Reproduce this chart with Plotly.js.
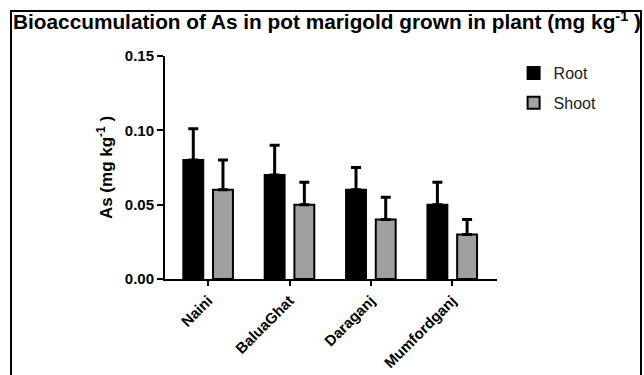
<!DOCTYPE html>
<html>
<head>
<meta charset="utf-8">
<script src="https://cdn.plot.ly/plotly-3.0.1.min.js"></script>
<style>
  html, body { margin: 0; padding: 0; background: #fff; overflow: hidden; }
  #chart { width: 644px; height: 375px; }
  #frame { position: absolute; left: 10px; top: 10px; width: 628px; height: 420px;
           border-left: 2px solid #000; border-top: 2px solid #000; border-right: 2px solid #000;
           pointer-events: none; }
</style>
</head>
<body>
<div id="chart"></div>
<div id="frame"></div>
<script>
const sites = ["Naini", "BaluaGhat", "Daraganj", "Mumfordganj"];
const rootValues = [0.080, 0.070, 0.060, 0.050];
const rootErrors = [0.021, 0.020, 0.015, 0.015];
const shootValues = [0.060, 0.050, 0.040, 0.030];
const shootErrors = [0.020, 0.015, 0.015, 0.010];
const yTicks = [0, 0.05, 0.10, 0.15];
const yTickLabels = ["0.00", "0.05", "0.10", "0.15"];

const FONT = "Liberation Sans, Arial, sans-serif";

const traces = [
  {
    type: "bar", name: "Root", x: sites, y: rootValues,
    marker: { color: "#000000", line: { color: "#000000", width: 2 } },
    error_y: { type: "data", symmetric: false, array: rootErrors, arrayminus: rootValues.map(() => 0),
               color: "#000000", thickness: 3, width: 5 },
    legendgroup: "a"
  },
  {
    type: "bar", name: "Shoot", x: sites, y: shootValues,
    marker: { color: "#a0a0a0", line: { color: "#000000", width: 2 } },
    error_y: { type: "data", symmetric: false, array: shootErrors, arrayminus: shootValues.map(() => 0),
               color: "#000000", thickness: 3, width: 5 },
    legendgroup: "b"
  }
];

const layout = {
  width: 644, height: 375,
  margin: { l: 165, r: 147, t: 56, b: 96, pad: 0 },
  paper_bgcolor: "#ffffff", plot_bgcolor: "#ffffff",
  barmode: "group", bargap: 0.27, bargroupgap: 0.33,
  showlegend: true,
  title: {
    text: "<b>Bioaccumulation of As in pot marigold grown in plant (mg kg<sup>-1</sup> )</b>",
    font: { family: FONT, size: 20.8, color: "#000" },
    xref: "container", yref: "container", x: 13 / 644, xanchor: "left",
    y: 1 - 22 / 375, yanchor: "middle"
  },
  xaxis: {
    type: "category", range: [-0.53, 3.55],
    showline: true, linecolor: "#000", linewidth: 2,
    ticks: "outside", ticklen: 5, tickwidth: 2, tickcolor: "#000",
    tickangle: -45, showgrid: false, zeroline: false,
    tickfont: { family: FONT, size: 15, color: "#000", weight: "bold" }
  },
  yaxis: {
    range: [0, 0.15], tickvals: yTicks, ticktext: yTickLabels,
    showline: true, linecolor: "#000", linewidth: 2,
    ticks: "outside", ticklen: 6, tickwidth: 2, tickcolor: "#000",
    showgrid: false, zeroline: false,
    tickfont: { family: FONT, size: 15, color: "#000", weight: "bold" },
    title: { text: "<b>As (mg kg<sup>-1</sup> )</b>", font: { family: FONT, size: 17, color: "#000" }, standoff: 8 }
  },
  legend: {
    x: 1.05, xanchor: "left", y: 1.0, yanchor: "top",
    font: { family: FONT, size: 16, color: "#222" },
    bgcolor: "rgba(0,0,0,0)", tracegroupgap: 6, traceorder: "grouped"
  }
};

Plotly.newPlot("chart", traces, layout, { displayModeBar: false, staticPlot: true });
</script>
</body>
</html>
